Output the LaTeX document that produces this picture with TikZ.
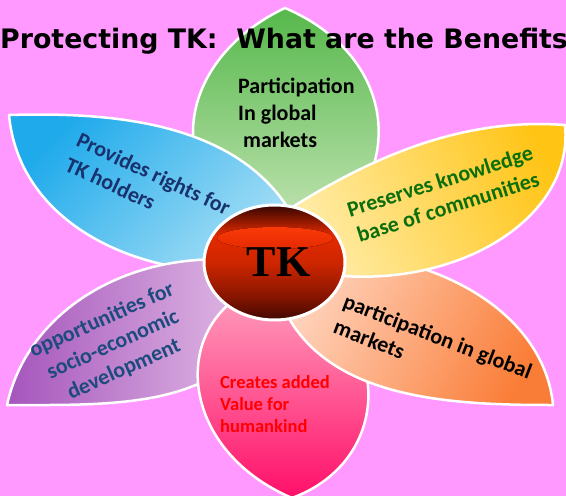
\documentclass[tikz,border=0pt]{standalone}
\usepackage{fontspec}
\setmainfont{Carlito}
\newfontfamily\titlefont{DejaVu Sans}
\newfontfamily\tkfont{Liberation Serif}
\usetikzlibrary{shapes.geometric}

\definecolor{bgpink}{RGB}{255,153,255}
\definecolor{greendark}{RGB}{86,184,75}
\definecolor{greenlight}{RGB}{200,230,185}
\definecolor{bluedark}{RGB}{30,170,235}
\definecolor{bluelight}{RGB}{170,224,246}
\definecolor{yellowdark}{RGB}{255,196,20}
\definecolor{yellowlight}{RGB}{255,238,175}
\definecolor{purpledark}{RGB}{165,85,188}
\definecolor{purplelight}{RGB}{230,195,232}
\definecolor{orangedark}{RGB}{250,125,55}
\definecolor{orangelight}{RGB}{255,212,190}
\definecolor{pinkdeep}{RGB}{255,15,105}
\definecolor{pinklight}{RGB}{255,160,190}
\definecolor{navytext}{RGB}{25,50,110}
\definecolor{leaftext}{RGB}{10,110,10}
\definecolor{slatetext}{RGB}{30,75,125}
\definecolor{tktop}{RGB}{50,5,0}
\definecolor{tkred}{RGB}{228,42,0}
\definecolor{tkmid}{RGB}{205,38,0}
\definecolor{tkdeep}{RGB}{140,22,0}
\definecolor{tkdark}{RGB}{65,8,0}
\definecolor{tkglow}{RGB}{250,58,8}

% glossy red ball in the middle
\pgfdeclareverticalshading{tkball}{100bp}{color(0bp)=(tkdark); color(25bp)=(tkdark);
  color(36bp)=(tkdeep); color(50bp)=(tkmid); color(62bp)=(tkred);
  color(75bp)=(tktop); color(100bp)=(tktop)}

\begin{document}
\begin{tikzpicture}[x=1pt,y=-1pt]
% Styles
\tikzstyle{petal}=[draw=white,line width=2.5pt,line join=round]
\tikzstyle{petal text}=[font=\bfseries\fontsize{22}{27}\selectfont,inner sep=0pt]

% background
\useasboundingbox (0,0) rectangle (566,496);
\fill[bgpink] (0,0) rectangle (566,496);
\clip (0,0) rectangle (566,496);

% petals, back to front
\draw[petal,top color=greendark,bottom color=greenlight] (260,230) .. controls (160,180) and (175,60) .. (285,8) .. controls (395,55) and (410,170) .. (320,240) -- cycle;
\draw[petal,top color=bluedark,bottom color=bluelight,shading angle=45] (300,230) .. controls (250,120) and (110,112) .. (9,115) .. controls (20,230) and (150,280) .. (250,270) -- cycle;
\draw[petal,left color=purpledark,right color=purplelight] (270,265) .. controls (150,240) and (30,300) .. (7,405) .. controls (120,405) and (240,410) .. (270,300) -- cycle;
\draw[petal,top color=pinklight,bottom color=pinkdeep] (250,290) .. controls (170,330) and (180,450) .. (292,498) .. controls (395,460) and (390,330) .. (300,300) -- cycle;
\draw[petal,top color=orangedark,bottom color=orangelight,shading angle=-117] (300,250) .. controls (450,250) and (545,320) .. (553,405) .. controls (450,405) and (320,400) .. (280,300) -- cycle;
\draw[petal,top color=yellowdark,bottom color=yellowlight,shading angle=-65] (280,215) .. controls (380,150) and (470,118) .. (565,125) .. controls (575,225) and (440,300) .. (300,270) -- cycle;

% title goes over the green petal
\node[anchor=base west,inner sep=0pt,font=\titlefont\bfseries\fontsize{26.8}{30}\selectfont] (title) at (0,48) {Protecting TK:\ \ What are the Benefits};

% petal labels
\node[petal text,align=left,anchor=west] (markets) at (238,113) {Participation\\In global\\\hspace*{5pt}markets};
\node[petal text,text=navytext,align=left,rotate=-25] (rights) at (148,186) {Provides rights for\\TK holders};
\node[petal text,text=slatetext,align=center,rotate=24] (development) at (113,345) {opportunities for\\socio-economic\\development};
\node[petal text,text=leaftext,align=center,rotate=17.5] (communities) at (444,194) {Preserves knowledge\\base of communities};
\node[petal text,align=left,rotate=-21] (global) at (433,349) {participation in global\\markets};
\node[petal text,text=red,align=left,anchor=west,font=\bfseries\fontsize{18.5}{22}\selectfont] (humankind) at (220,404) {Creates added\\Value for\\humankind};

% centre ball with its shine
\node[ellipse,shading=tkball,minimum width=141pt,minimum height=115pt,inner sep=0pt] (ball) at (274.5,262.5) {};
\begin{scope}
\clip (ball.center) ellipse [x radius=70.5,y radius=57.5];
\fill[top color=tkglow,bottom color=tkred] (275,238) ellipse [x radius=58,y radius=11];
\end{scope}
\draw[white,line width=3pt] (ball.center) ellipse [x radius=70.5,y radius=57.5];
\node[font=\tkfont\bfseries\fontsize{44}{44}\selectfont,inner sep=0pt] (tk) at ([xshift=4pt]ball.center) {TK};

\end{tikzpicture}
\end{document}
